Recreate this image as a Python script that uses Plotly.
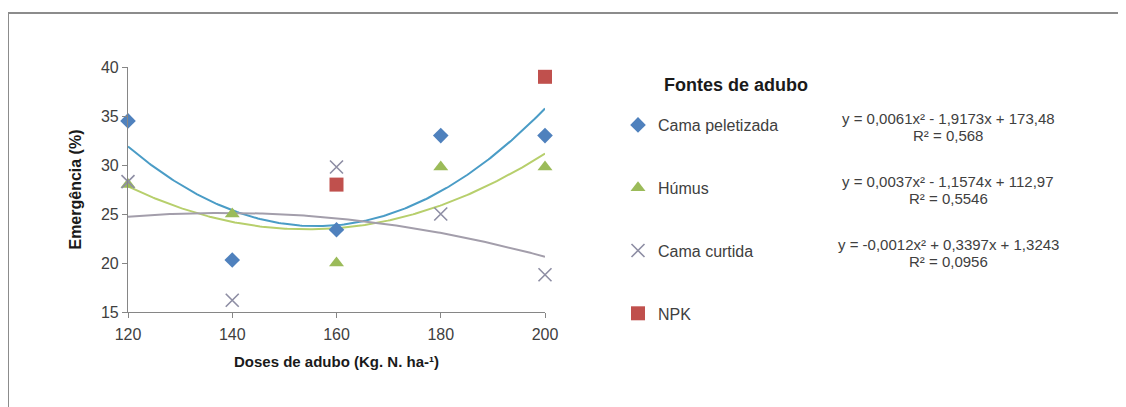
import numpy as np
import plotly.graph_objects as go

doses = [120, 140, 160, 180, 200]
cama_peletizada = [34.5, 20.3, 23.4, 33.0, 33.0]
humus = [28.0, 25.0, 20.0, 29.8, 29.8]
cama_curtida = [28.3, 16.2, 29.8, 25.0, 18.8]
npk_doses = [160, 200]
npk = [28.0, 39.0]

eq_peletizada = ["y = 0,0061x² - 1,9173x + 173,48", "R² = 0,568"]
eq_humus = ["y = 0,0037x² - 1,1574x + 112,97", "R² = 0,5546"]
eq_curtida = ["y = -0,0012x² + 0,3397x + 1,3243", "R² = 0,0956"]

OFF = 8  # page body margin
W, H = 1126 - OFF, 407 - OFF
L, R, T, B = 128, 545, 67, 312  # plot area in screen pixels


def px(x):
    return (x - L) / (R - L)


def py(y):
    return (B - y) / (B - T)


FONT = "Liberation Sans, Arial, sans-serif"
fig = go.Figure()

xs = np.linspace(120, 200, 200)
trend_specs = [
    (cama_peletizada, "#4a9cc6"),
    (humus, "#b7cf6c"),
    (cama_curtida, "#a39eab"),
]
for ys, col in trend_specs:
    coef = np.polyfit(doses, ys, 2)
    fig.add_trace(go.Scatter(x=xs, y=np.polyval(coef, xs), mode="lines",
                             line=dict(color=col, width=2), showlegend=False,
                             hoverinfo="skip"))

series = [
    ("Cama peletizada", doses, cama_peletizada, dict(symbol="diamond", size=12, color="#4f81bd")),
    ("Húmus", doses, humus, dict(symbol="triangle-up", size=13, color="#9bbb59")),
    ("Cama curtida", doses, cama_curtida, dict(symbol="x-thin", size=13, color="#8e8ea4",
                                               line=dict(color="#8e8ea4", width=1.6))),
    ("NPK", npk_doses, npk, dict(symbol="square", size=14, color="#c0504d")),
]
for i, (name, xv, yv, mk) in enumerate(series):
    fig.add_trace(go.Scatter(x=xv, y=yv, mode="markers", name=name, marker=mk,
                             cliponaxis=False, legendgroup=f"g{i}"))

annotations = [
    dict(text="<b>Fontes de adubo</b>", x=px(662), y=py(85), xanchor="left", yanchor="middle",
         font=dict(size=18, color="#1a1a1a")),
]
for (l1, l2), yc in [(eq_peletizada, 118), (eq_humus, 181), (eq_curtida, 244)]:
    annotations.append(dict(text=l1, x=px(948), y=py(yc), xanchor="center", yanchor="middle",
                            font=dict(size=15, color="#404040")))
    annotations.append(dict(text=l2, x=px(948), y=py(yc + 17), xanchor="center", yanchor="middle",
                            font=dict(size=15, color="#404040")))
for a in annotations:
    a.update(xref="paper", yref="paper", showarrow=False)

border = "#8c8c8c"
shapes = [
    dict(type="line", xref="paper", yref="paper", x0=px(8), y0=py(13), x1=px(1130), y1=py(13),
         line=dict(color=border, width=2)),
    dict(type="line", xref="paper", yref="paper", x0=px(8), y0=py(13), x1=px(8), y1=py(410),
         line=dict(color=border, width=2)),
]

axis_common = dict(showgrid=False, zeroline=False, showline=True, linecolor="#868686",
                   linewidth=1.2, ticks="outside", ticklen=5, tickcolor="#868686",
                   tickfont=dict(size=16, color="#404040", family=FONT))

fig.update_layout(
    width=W, height=H,
    margin=dict(l=L - OFF, r=W - (R - OFF), t=T - OFF, b=H - (B - OFF), autoexpand=False),
    paper_bgcolor="white", plot_bgcolor="white",
    font=dict(family=FONT, color="#404040"),
    xaxis=dict(range=[120, 200], tickmode="array", tickvals=[120, 140, 160, 180, 200],
               ticklabelstandoff=3,
               title=dict(text="<b>Doses de adubo (Kg. N. ha-¹)</b>", standoff=14,
                          font=dict(size=15, color="#1a1a1a")), **axis_common),
    yaxis=dict(range=[15, 40], tickmode="array", tickvals=[15, 20, 25, 30, 35, 40],
               title=dict(text="<b>Emergência (%)</b>", standoff=15,
                          font=dict(size=16, color="#1a1a1a")), **axis_common),
    legend=dict(x=px(618), y=py(108), xanchor="left", yanchor="top",
                font=dict(size=16, color="#404040", family=FONT),
                itemwidth=30, tracegroupgap=39, traceorder="grouped",
                bgcolor="rgba(0,0,0,0)"),
    annotations=annotations,
    shapes=shapes,
)

fig.write_html("out.html")
